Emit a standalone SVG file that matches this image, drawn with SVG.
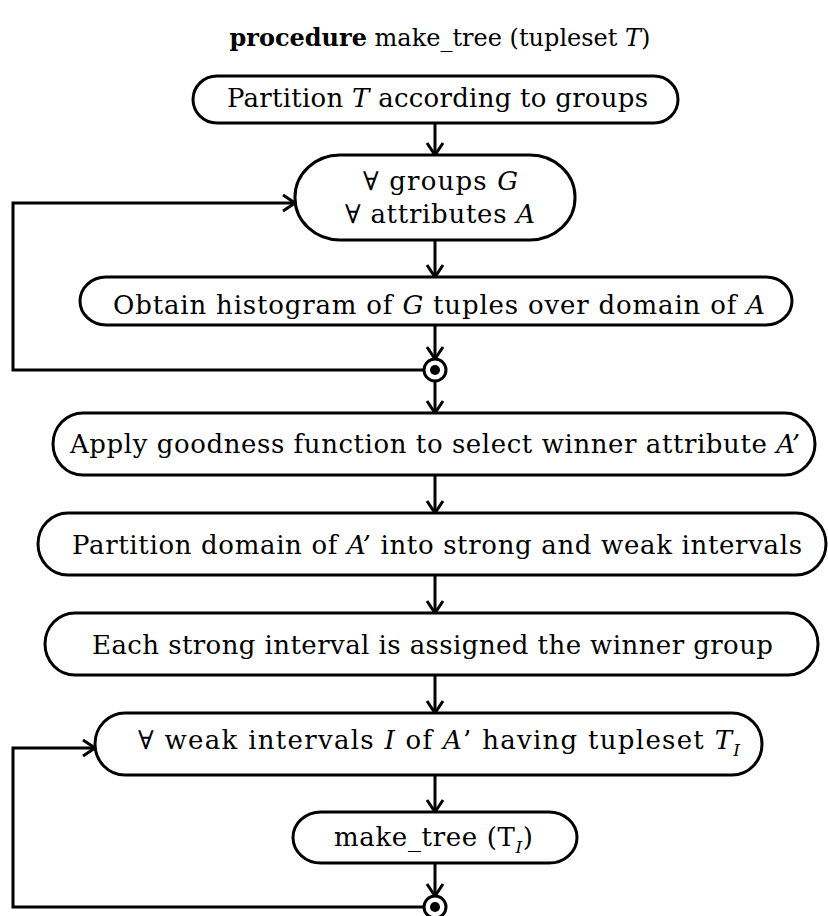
<svg xmlns="http://www.w3.org/2000/svg" width="828" height="916" viewBox="0 0 828 916">
<style>
.box{fill:#fff;stroke:#000;stroke-width:3}
.t{font-family:"DejaVu Serif","Liberation Serif",serif;font-size:26px;fill:#000}
.title{font-family:"DejaVu Serif","Liberation Serif",serif;font-size:24px;fill:#000}
.i{font-style:italic}
.sub{font-style:italic;font-size:17px}
.con{fill:none;stroke:#000;stroke-width:3}
.dot{fill:#fff;stroke:#000;stroke-width:3}
</style>
<defs>
<marker id="arr" markerUnits="userSpaceOnUse" viewBox="0 0 16 20" refX="14" refY="10" markerWidth="16" markerHeight="20" orient="auto">
<path d="M2,2 L14,10 L2,18" fill="none" stroke="#000" stroke-width="3"/>
</marker>
</defs>
<text class="title" x="440" y="46" text-anchor="middle"><tspan font-weight="bold">procedure</tspan>  make_tree  (tupleset <tspan class="i">T</tspan>)</text>
<g id="connectors">
<line class="con" x1="435" y1="123" x2="435" y2="155" marker-end="url(#arr)"/>
<line class="con" x1="435" y1="240" x2="435" y2="277" marker-end="url(#arr)"/>
<line class="con" x1="435" y1="325" x2="435" y2="359" marker-end="url(#arr)"/>
<line class="con" x1="435" y1="381" x2="435" y2="413" marker-end="url(#arr)"/>
<line class="con" x1="435" y1="475" x2="435" y2="513" marker-end="url(#arr)"/>
<line class="con" x1="435" y1="575" x2="435" y2="613" marker-end="url(#arr)"/>
<line class="con" x1="435" y1="675" x2="435" y2="713" marker-end="url(#arr)"/>
<line class="con" x1="435" y1="775" x2="435" y2="812" marker-end="url(#arr)"/>
<line class="con" x1="435" y1="863" x2="435" y2="896" marker-end="url(#arr)"/>
<path class="con" d="M424,370 H13 V203 H295" marker-end="url(#arr)"/>
<path class="con" d="M424,907 H13 V748 H95" marker-end="url(#arr)"/>
</g>
<g id="join1"><circle class="dot" cx="435" cy="370" r="11"/><circle cx="435" cy="370" r="5" fill="#000"/></g>
<g id="join2"><circle class="dot" cx="435" cy="907" r="11"/><circle cx="435" cy="907" r="5" fill="#000"/></g>
<g id="n1">
<rect class="box" x="193" y="76" width="485" height="47" rx="24" ry="23.5"/>
<text class="t" x="227" y="107" textLength="421" lengthAdjust="spacing">Partition <tspan class="i">T</tspan> according to groups</text>
</g>
<g id="n2">
<rect class="box" x="295" y="155" width="280" height="85" rx="45" ry="42"/>
<text class="t" x="363" y="190" textLength="155" lengthAdjust="spacing">∀ groups <tspan class="i">G</tspan></text>
<text class="t" x="345" y="223" textLength="190" lengthAdjust="spacing">∀ attributes <tspan class="i">A</tspan></text>
</g>
<g id="n3">
<rect class="box" x="80" y="277" width="712" height="48" rx="26" ry="24"/>
<text class="t" x="113" y="314" textLength="652" lengthAdjust="spacing">Obtain histogram of <tspan class="i">G</tspan> tuples over domain of <tspan class="i">A</tspan></text>
</g>
<g id="n4">
<rect class="box" x="53" y="413" width="762" height="62" rx="30" ry="31"/>
<text class="t" x="70" y="453" textLength="730" lengthAdjust="spacing">Apply goodness function to select winner attribute <tspan class="i">A’</tspan></text>
</g>
<g id="n5">
<rect class="box" x="38" y="513" width="788" height="62" rx="30" ry="31"/>
<text class="t" x="72" y="554" textLength="730" lengthAdjust="spacing">Partition domain of <tspan class="i">A’</tspan> into strong and weak intervals</text>
</g>
<g id="n6">
<rect class="box" x="45" y="613" width="773" height="62" rx="30" ry="31"/>
<text class="t" x="92" y="654" textLength="681" lengthAdjust="spacing">Each strong interval is assigned the winner group</text>
</g>
<g id="n7">
<rect class="box" x="95" y="713" width="667" height="62" rx="30" ry="31"/>
<text class="t" x="138" y="749" textLength="602" lengthAdjust="spacing">∀ weak intervals <tspan class="i">I</tspan> of <tspan class="i">A</tspan>’ having tupleset <tspan class="i">T</tspan><tspan class="sub" dy="7">I</tspan></text>
</g>
<g id="n8">
<rect class="box" x="293" y="812" width="284" height="51" rx="28" ry="25.5"/>
<text class="t" x="334" y="846" textLength="199" lengthAdjust="spacing">make_tree (T<tspan class="sub" dy="7">I</tspan><tspan dy="-7">)</tspan></text>
</g>
</svg>
